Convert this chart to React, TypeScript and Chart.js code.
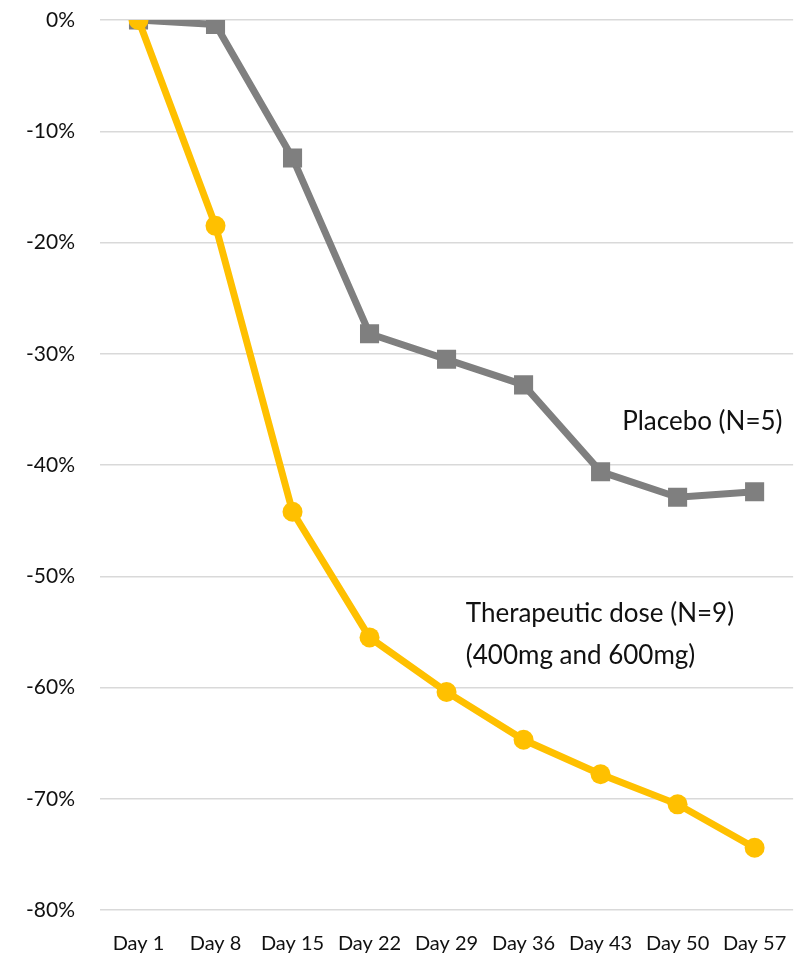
import React, { useEffect, useRef } from "react";
import { Chart, registerables } from "chart.js";

Chart.register(...registerables);

const categories = ["Day 1", "Day 8", "Day 15", "Day 22", "Day 29", "Day 36", "Day 43", "Day 50", "Day 57"];
const placebo = [0, -0.4, -12.4, -28.2, -30.5, -32.8, -40.6, -42.9, -42.4];
const therapeutic = [0, -18.5, -44.2, -55.5, -60.4, -64.7, -67.8, -70.5, -74.4];
const yTicks = [-80, -70, -60, -50, -40, -30, -20, -10, 0];

const FONT = "Lato, 'Open Sans', sans-serif";

const labelsPlugin = {
  id: "seriesLabels",
  afterDatasetsDraw(chart: any) {
    const { ctx, scales } = chart;
    const x = scales.x;
    const y = scales.y;
    ctx.save();
    ctx.fillStyle = "#111";
    ctx.font = `26px ${FONT}`;
    ctx.textAlign = "left";
    ctx.textBaseline = "middle";
    ctx.fillText("Placebo (N=5)", x.getPixelForValue(6.28), y.getPixelForValue(-36.1));
    ctx.fillText("Therapeutic dose (N=9)", x.getPixelForValue(4.25), y.getPixelForValue(-53.4));
    ctx.fillText("(400mg and 600mg)", x.getPixelForValue(4.25), y.getPixelForValue(-57.1));
    ctx.restore();
  },
};

export default function App() {
  const ref = useRef<HTMLCanvasElement>(null);
  useEffect(() => {
    if (!ref.current) return;
    const chart = new Chart(ref.current, {
      type: "line",
      data: {
        labels: categories,
        datasets: [
          {
            label: "Placebo (N=5)",
            data: placebo,
            borderColor: "#7f7f7f",
            backgroundColor: "#7f7f7f",
            borderWidth: 7,
            pointStyle: "rect",
            pointRadius: 13.5,
            pointBorderWidth: 0,
            order: 2,
          },
          {
            label: "Therapeutic dose (N=9)",
            data: therapeutic,
            borderColor: "#ffc000",
            backgroundColor: "#ffc000",
            borderWidth: 7,
            pointStyle: "circle",
            pointRadius: 10,
            pointBorderWidth: 0,
            order: 1,
          },
        ],
      },
      options: {
        animation: false,
        responsive: false,
        maintainAspectRatio: false,
        layout: { padding: { top: 20, right: 11, left: 0, bottom: 0 } },
        plugins: { legend: { display: false }, tooltip: { enabled: false } },
        scales: {
          x: {
            offset: true,
            grid: { display: false, drawTicks: false },
            border: { display: false },
            ticks: { color: "#111", font: { family: FONT, size: 20 }, padding: 22, maxRotation: 0, autoSkip: false },
            afterFit: (s: any) => { s.height = 46; },
          },
          y: {
            min: -80,
            max: 0,
            afterBuildTicks: (s: any) => { s.ticks = yTicks.map((v) => ({ value: v })); },
            grid: { color: "#d9d9d9", lineWidth: 1.5, drawTicks: false },
            border: { display: false },
            ticks: {
              color: "#111",
              font: { family: FONT, size: 21 },
              padding: 25,
              callback: (v: any) => `${v}%`,
            },
            afterFit: (s: any) => { s.width = 100; s.paddingTop = 0; s.paddingBottom = 0; },
          },
        },
      },
      plugins: [labelsPlugin],
    });
    return () => chart.destroy();
  }, []);
  return (
    <div style={{ position: "fixed", left: 0, top: 0, width: 809, height: 956, background: "#fff" }}>
      <canvas ref={ref} width={809} height={956} style={{ width: 809, height: 956 }} />
    </div>
  );
}
